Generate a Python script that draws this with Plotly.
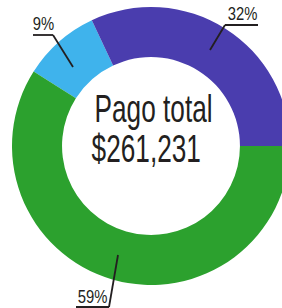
import plotly.graph_objects as go

# Data
categories = ["Azul claro", "Morado", "Verde"]
values = [9, 32, 59]
pct_labels = ["9%", "32%", "59%"]
colors = ["#3fb3ec", "#4a3dae", "#2ca12e"]
center_title = "Pago total"
center_amount = "$261,231"

W, H = 290, 308
FONT = "Liberation Sans, Arial, sans-serif"
INK = "#231f20"

def px(x):
    return x / W

def py(y):
    return 1 - y / H

fig = go.Figure(go.Pie(
    labels=categories,
    values=values,
    marker=dict(colors=colors, line=dict(width=0)),
    hole=0.64,
    sort=False,
    direction="clockwise",
    rotation=-57.6,
    textinfo="none",
    hoverinfo="label+percent",
    showlegend=False,
    domain=dict(x=[px(12), 1], y=[py(285), py(7)]),
))

annotations = [
    dict(x=px(153), y=py(108.5), text=center_title, font=dict(size=38, color=INK, family=FONT)),
    dict(x=px(146), y=py(148.5), text=center_amount, font=dict(size=38, color=INK, family=FONT)),
    dict(x=px(43), y=py(23.5), text=pct_labels[0], font=dict(size=18.5, color=INK, family=FONT)),
    dict(x=px(242), y=py(14), text=pct_labels[1], font=dict(size=18.5, color=INK, family=FONT)),
    dict(x=px(93), y=py(296), text=pct_labels[2], font=dict(size=18.5, color=INK, family=FONT)),
]
for a in annotations:
    a.update(xref="paper", yref="paper", showarrow=False, xanchor="center", yanchor="middle")

leaders = [
    [(33, 35), (53, 35), (73, 67)],
    [(258, 25), (225, 25), (210, 50)],
    [(76, 307), (109, 307), (118, 255)],
]
shapes = []
for pts in leaders:
    for (x0, y0), (x1, y1) in zip(pts[:-1], pts[1:]):
        shapes.append(dict(type="line", xref="paper", yref="paper",
                           x0=px(x0), y0=py(y0), x1=px(x1), y1=py(y1),
                           line=dict(color=INK, width=1.8)))

fig.update_layout(
    width=W, height=H,
    margin=dict(l=0, r=0, t=0, b=0),
    paper_bgcolor="white",
    plot_bgcolor="white",
    annotations=annotations,
    shapes=shapes,
)

# Page without body margin; condensed look for the annotation glyphs
post = """
document.body.style.margin = '0';
document.body.style.overflow = 'hidden';
var gd = document.getElementById('{plot_id}');
function squeeze() {
  gd.querySelectorAll('.annotation-text').forEach(function (t) {
    var fs = parseFloat(t.style.fontSize) || 12;
    var s = fs > 30 ? 0.69 : 0.8;
    t.style.transformBox = 'fill-box';
    t.style.transformOrigin = 'center';
    t.style.transform = 'scaleX(' + s + ')';
  });
}
squeeze();
if (gd.on) { gd.on('plotly_afterplot', squeeze); }
"""

fig.write_html("out.html", post_script=post, config={"displayModeBar": False})
